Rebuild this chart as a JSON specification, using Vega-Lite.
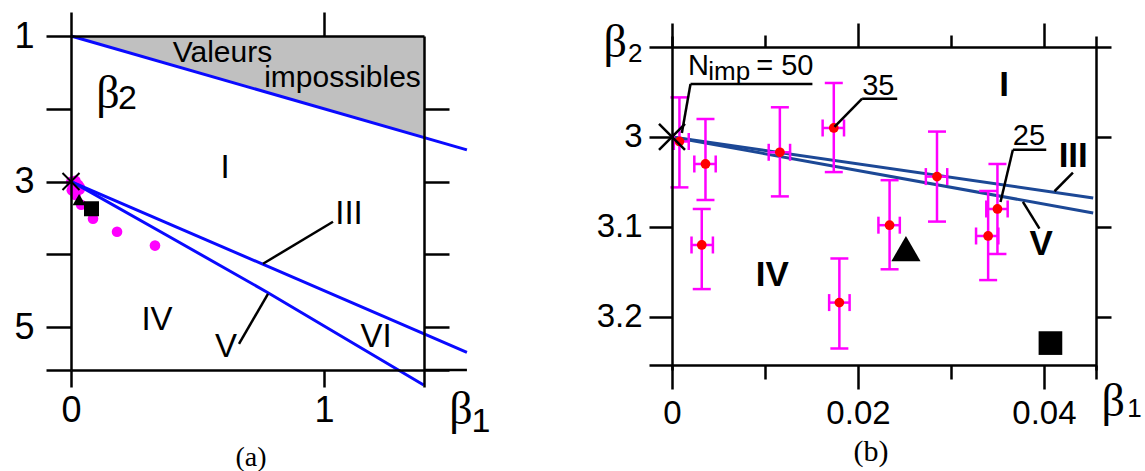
{
  "$schema": "https://vega.github.io/schema/vega-lite/v6.json",
  "background": "white",
  "padding": {"left": 13, "top": 10, "right": 5, "bottom": 5},
  "bounds": "flush",
  "spacing": 248,
  "config": {
    "view": {"stroke": null},
    "axis": {"domainColor": "black", "tickColor": "black", "domainWidth": 2.5, "tickWidth": 2.5, "labelColor": "black", "labelFont": "Liberation Sans", "grid": false, "labelFlush": false, "labelOverlap": false, "labelBound": false}
  },
  "datasets": {
    "areaA": [{"x": 0, "y": 1, "y2": 1}, {"x": 1.3953, "y": 2.3953, "y2": 1}],
    "linesA": [
      {"s": "top", "x": 0, "y": 1}, {"s": "top", "x": 1.565, "y": 2.565},
      {"s": "III", "x": 0, "y": 3}, {"s": "III", "x": 1.565, "y": 5.3475},
      {"s": "V", "x": 0, "y": 3}, {"s": "V", "x": 0.045, "y": 3.084}, {"s": "V", "x": 0.382, "y": 3.745}, {"s": "V", "x": 0.777, "y": 4.524}, {"s": "V", "x": 1.394, "y": 5.797}
    ],
    "dotsA": [
      {"x": 0.0008, "y": 3.005}, {"x": 0.0036, "y": 3.03}, {"x": 0.0032, "y": 3.12}, {"x": 0.0116, "y": 3.017}, {"x": 0.0174, "y": 2.99},
      {"x": 0.018, "y": 3.184}, {"x": 0.0234, "y": 3.098}, {"x": 0.0285, "y": 3.044}, {"x": 0.034, "y": 3.11}, {"x": 0.035, "y": 3.08},
      {"x": 0.04, "y": 3.319}, {"x": 0.087, "y": 3.511}, {"x": 0.182, "y": 3.69}, {"x": 0.332, "y": 3.88}
    ],
    "symA": [{"k": "tri", "x": 0.032, "y": 3.25}, {"k": "sq", "x": 0.081, "y": 3.374}, {"k": "cross", "x": 0, "y": 3}],
    "segA": [
      {"x": 1.0356, "y": 3.5526, "x2": 0.7589, "y2": 4.1299},
      {"x": 0.7787, "y": 4.5424, "x2": 0.664, "y2": 5.2297},
      {"x": 1.3953, "y": 5.59, "x2": 1.565, "y2": 5.59}
    ],
    "txtA_region": [
      {"t": "I", "x": 0.6087, "y": 2.81}, {"t": "III", "x": 1.0988, "y": 3.4426}, {"t": "IV", "x": 0.3399, "y": 4.9066},
      {"t": "V", "x": 0.6126, "y": 5.2708}, {"t": "VI", "x": 1.2055, "y": 5.1333}
    ],
    "txtA_words": [{"t": "Valeurs", "x": 0.5988, "y": 1.2296}, {"t": "impossibles", "x": 1.0731, "y": 1.5732}],
    "txtA_beta": [{"t": "β", "x": 0.1462, "y": 1.8}, {"t": "β", "x": 1.5415, "y": 6.1368}],
    "txtA_sub": [{"t": "2", "x": 0.2233, "y": 1.8687}, {"t": "1", "x": 1.6206, "y": 6.3017}],
    "txtA_cap": [{"t": "(a)", "x": 0.7115, "y": 6.7966}],
    "linesB": [
      {"s": "III", "x": 0, "y": 3}, {"s": "III", "x": 0.0453, "y": 3.0678},
      {"s": "V", "x": 0, "y": 3}, {"s": "V", "x": 0.0453, "y": 3.0844}
    ],
    "ptsB": [
      {"x": 0.0008, "y": 3.005, "ylo": 2.956, "yhi": 3.056, "xlo": 0.0002, "xhi": 0.0018},
      {"x": 0.0036, "y": 3.03, "ylo": 2.98, "yhi": 3.07, "xlo": 0.0024, "xhi": 0.0047},
      {"x": 0.0032, "y": 3.12, "ylo": 3.08, "yhi": 3.169, "xlo": 0.0021, "xhi": 0.0044},
      {"x": 0.0116, "y": 3.017, "ylo": 2.967, "yhi": 3.066, "xlo": 0.0104, "xhi": 0.0127},
      {"x": 0.0174, "y": 2.99, "ylo": 2.94, "yhi": 3.039, "xlo": 0.0162, "xhi": 0.0185},
      {"x": 0.018, "y": 3.184, "ylo": 3.135, "yhi": 3.235, "xlo": 0.0169, "xhi": 0.0191},
      {"x": 0.0234, "y": 3.098, "ylo": 3.048, "yhi": 3.147, "xlo": 0.0222, "xhi": 0.0245},
      {"x": 0.0285, "y": 3.044, "ylo": 2.994, "yhi": 3.094, "xlo": 0.0273, "xhi": 0.0296},
      {"x": 0.034, "y": 3.11, "ylo": 3.06, "yhi": 3.159, "xlo": 0.0327, "xhi": 0.0351},
      {"x": 0.035, "y": 3.08, "ylo": 3.03, "yhi": 3.13, "xlo": 0.0338, "xhi": 0.0361}
    ],
    "symB": [{"k": "tri", "x": 0.02516, "y": 3.124}, {"k": "sq", "x": 0.0407, "y": 3.229}, {"k": "cross", "x": 0, "y": 3}],
    "segB": [
      {"x": 0.00199, "y": 2.9411, "x2": 0.0151, "y2": 2.9411},
      {"x": 0.00199, "y": 2.9411, "x2": 0.00106, "y2": 2.9956},
      {"x": 0.02045, "y": 2.9574, "x2": 0.02422, "y2": 2.9574},
      {"x": 0.02045, "y": 2.9574, "x2": 0.01747, "y2": 2.9889},
      {"x": 0.03666, "y": 3.0141, "x2": 0.04025, "y2": 3.0141},
      {"x": 0.03666, "y": 3.0141, "x2": 0.03533, "y2": 3.0722},
      {"x": 0.04312, "y": 3.0397, "x2": 0.04114, "y2": 3.0603},
      {"x": 0.03952, "y": 3.1019, "x2": 0.03774, "y2": 3.0722}
    ],
    "txtB_lbl": [
      {"t": "N", "x": 0.00171, "y": 2.9314}, {"t": "= 50", "x": 0.00906, "y": 2.9314},
      {"t": "35", "x": 0.02045, "y": 2.9533}, {"t": "25", "x": 0.03666, "y": 3.0092}
    ],
    "txtB_imp": [{"t": "imp", "x": 0.0039, "y": 2.937}],
    "txtB_region": [
      {"t": "I", "x": 0.03573, "y": 2.9417}, {"t": "III", "x": 0.04315, "y": 3.0211},
      {"t": "V", "x": 0.0397, "y": 3.1192}, {"t": "IV", "x": 0.01078, "y": 3.1537}
    ],
    "txtB_beta": [{"t": "β", "x": -0.00611, "y": 2.8961}, {"t": "β", "x": 0.04745, "y": 3.295}],
    "txtB_sub": [{"t": "2", "x": -0.00396, "y": 2.9083}, {"t": "1", "x": 0.04975, "y": 3.3017}],
    "txtB_cap": [{"t": "(b)", "x": 0.02141, "y": 3.35}]
  },
  "hconcat": [
    {
      "width": 353,
      "height": 334,
      "resolve": {"axis": {"x": "independent", "y": "independent"}},
      "layer": [
        {
          "data": {"name": "areaA"},
          "mark": {"type": "area", "color": "#c0c0c0", "opacity": 1},
          "encoding": {
            "x": {"field": "x", "type": "quantitative", "scale": {"domain": [0, 1.3953], "nice": false, "zero": false},
                  "axis": {"orient": "bottom", "values": [0, 1, 1.3953], "tickSize": 17, "labelExpr": "datum.value == 0 ? '0' : datum.value == 1 ? '1' : ''", "labelFontSize": 36, "labelPadding": 6, "title": null, "zindex": 1}},
            "y": {"field": "y", "type": "quantitative", "scale": {"domain": [1, 5.59], "nice": false, "zero": false, "reverse": true},
                  "axis": {"orient": "left", "values": [1, 2, 3, 4, 5, 5.59], "tickSize": 25, "labelExpr": "datum.value == 1 ? '1' : datum.value == 3 ? '3' : datum.value == 5 ? '5' : ''", "labelFontSize": 36, "labelPadding": 12, "title": null, "zindex": 1}},
            "y2": {"field": "y2"}
          }
        },
        {
          "data": {"name": "dotsA"},
          "mark": {"type": "point", "shape": "circle", "filled": true, "color": "#ff00ff", "opacity": 1, "size": 113},
          "encoding": {
            "x": {"field": "x", "type": "quantitative", "scale": {"domain": [0, 1.3953], "nice": false, "zero": false},
                  "axis": {"orient": "top", "values": [0, 1], "tickSize": 24, "labels": false, "title": null, "zindex": 1}},
            "y": {"field": "y", "type": "quantitative", "scale": {"domain": [1, 5.59], "nice": false, "zero": false, "reverse": true},
                  "axis": {"orient": "right", "values": [2, 3, 4, 5, 5.59], "tickSize": 25, "labels": false, "title": null, "zindex": 1}}
          }
        },
        {
          "data": {"name": "linesA"},
          "mark": {"type": "line", "color": "#0a0aff", "strokeWidth": 3},
          "encoding": {
            "x": {"field": "x", "type": "quantitative", "scale": {"domain": [0, 1.3953], "nice": false, "zero": false}, "axis": null},
            "y": {"field": "y", "type": "quantitative", "scale": {"domain": [1, 5.59], "nice": false, "zero": false, "reverse": true}, "axis": null},
            "detail": {"field": "s"}
          }
        },
        {
          "data": {"name": "symA"},
          "transform": [{"filter": "datum.k == 'tri'"}],
          "mark": {"type": "point", "shape": "triangle-up", "filled": true, "color": "black", "opacity": 1, "size": 170},
          "encoding": {
            "x": {"field": "x", "type": "quantitative", "scale": {"domain": [0, 1.3953], "nice": false, "zero": false}, "axis": null},
            "y": {"field": "y", "type": "quantitative", "scale": {"domain": [1, 5.59], "nice": false, "zero": false, "reverse": true}, "axis": null}
          }
        },
        {
          "data": {"name": "symA"},
          "transform": [{"filter": "datum.k == 'sq'"}],
          "mark": {"type": "point", "shape": "square", "filled": true, "color": "black", "opacity": 1, "size": 225},
          "encoding": {
            "x": {"field": "x", "type": "quantitative", "scale": {"domain": [0, 1.3953], "nice": false, "zero": false}, "axis": null},
            "y": {"field": "y", "type": "quantitative", "scale": {"domain": [1, 5.59], "nice": false, "zero": false, "reverse": true}, "axis": null}
          }
        },
        {
          "data": {"name": "symA"},
          "transform": [{"filter": "datum.k == 'cross'"}],
          "mark": {"type": "point", "shape": "M-1,-1L1,1M-1,1L1,-1", "filled": false, "color": "black", "strokeWidth": 2, "opacity": 1, "size": 289},
          "encoding": {
            "x": {"field": "x", "type": "quantitative", "scale": {"domain": [0, 1.3953], "nice": false, "zero": false}, "axis": null},
            "y": {"field": "y", "type": "quantitative", "scale": {"domain": [1, 5.59], "nice": false, "zero": false, "reverse": true}, "axis": null}
          }
        },
        {
          "data": {"name": "segA"},
          "mark": {"type": "rule", "color": "black", "strokeWidth": 2.5},
          "encoding": {
            "x": {"field": "x", "type": "quantitative", "scale": {"domain": [0, 1.3953], "nice": false, "zero": false}, "axis": null},
            "y": {"field": "y", "type": "quantitative", "scale": {"domain": [1, 5.59], "nice": false, "zero": false, "reverse": true}, "axis": null},
            "x2": {"field": "x2"},
            "y2": {"field": "y2"}
          }
        },
        {
          "data": {"name": "txtA_region"},
          "mark": {"type": "text", "font": "Liberation Sans", "fontSize": 33, "color": "black", "align": "center", "baseline": "middle"},
          "encoding": {
            "x": {"field": "x", "type": "quantitative", "scale": {"domain": [0, 1.3953], "nice": false, "zero": false}, "axis": null},
            "y": {"field": "y", "type": "quantitative", "scale": {"domain": [1, 5.59], "nice": false, "zero": false, "reverse": true}, "axis": null},
            "text": {"field": "t"}
          }
        },
        {
          "data": {"name": "txtA_words"},
          "mark": {"type": "text", "font": "Liberation Sans", "fontSize": 30, "color": "black", "align": "center", "baseline": "middle"},
          "encoding": {
            "x": {"field": "x", "type": "quantitative", "scale": {"domain": [0, 1.3953], "nice": false, "zero": false}, "axis": null},
            "y": {"field": "y", "type": "quantitative", "scale": {"domain": [1, 5.59], "nice": false, "zero": false, "reverse": true}, "axis": null},
            "text": {"field": "t"}
          }
        },
        {
          "data": {"name": "txtA_beta"},
          "mark": {"type": "text", "font": "Liberation Serif", "fontSize": 46, "color": "black", "align": "center", "baseline": "middle"},
          "encoding": {
            "x": {"field": "x", "type": "quantitative", "scale": {"domain": [0, 1.3953], "nice": false, "zero": false}, "axis": null},
            "y": {"field": "y", "type": "quantitative", "scale": {"domain": [1, 5.59], "nice": false, "zero": false, "reverse": true}, "axis": null},
            "text": {"field": "t"}
          }
        },
        {
          "data": {"name": "txtA_sub"},
          "mark": {"type": "text", "font": "Liberation Sans", "fontSize": 34, "color": "black", "align": "center", "baseline": "middle"},
          "encoding": {
            "x": {"field": "x", "type": "quantitative", "scale": {"domain": [0, 1.3953], "nice": false, "zero": false}, "axis": null},
            "y": {"field": "y", "type": "quantitative", "scale": {"domain": [1, 5.59], "nice": false, "zero": false, "reverse": true}, "axis": null},
            "text": {"field": "t"}
          }
        },
        {
          "data": {"name": "txtA_cap"},
          "mark": {"type": "text", "font": "Liberation Serif", "fontSize": 28, "color": "black", "align": "center", "baseline": "middle"},
          "encoding": {
            "x": {"field": "x", "type": "quantitative", "scale": {"domain": [0, 1.3953], "nice": false, "zero": false}, "axis": null},
            "y": {"field": "y", "type": "quantitative", "scale": {"domain": [1, 5.59], "nice": false, "zero": false, "reverse": true}, "axis": null},
            "text": {"field": "t"}
          }
        }
      ]
    },
    {
      "width": 424,
      "height": 334,
      "resolve": {"axis": {"x": "independent", "y": "independent"}},
      "layer": [
        {
          "data": {"name": "linesB"},
          "mark": {"type": "line", "color": "#1c4896", "strokeWidth": 3},
          "encoding": {
            "x": {"field": "x", "type": "quantitative", "scale": {"domain": [0, 0.0456], "nice": false, "zero": false},
                  "axis": {"orient": "bottom", "offset": -5, "values": [0, 0.02, 0.04], "tickSize": 24, "labelExpr": "datum.value == 0 ? '0' : format(datum.value, '.2f')", "labelFontSize": 33, "labelPadding": 8, "title": null, "zindex": 1}},
            "y": {"field": "y", "type": "quantitative", "scale": {"domain": [2.8878, 3.2589], "nice": false, "zero": false, "reverse": true},
                  "axis": {"orient": "left", "values": [2.9, 3, 3.1, 3.2, 3.2537], "tickSize": 23, "labelExpr": "datum.value == 3 ? '3' : (datum.value == 3.1 || datum.value == 3.2) ? format(datum.value, '.1f') : ''", "labelFontSize": 33, "labelPadding": 7, "title": null, "zindex": 1}},
            "detail": {"field": "s"}
          }
        },
        {
          "data": {"name": "ptsB"},
          "mark": {"type": "rule", "color": "#ff00ff", "strokeWidth": 2.5},
          "encoding": {
            "x": {"field": "x", "type": "quantitative", "scale": {"domain": [0, 0.0456], "nice": false, "zero": false},
                  "axis": {"orient": "bottom", "offset": -5, "values": [0.01, 0.03, 0.0456], "tickSize": 14, "labels": false, "domain": false, "title": null, "zindex": 1}},
            "y": {"field": "ylo", "type": "quantitative", "scale": {"domain": [2.8878, 3.2589], "nice": false, "zero": false, "reverse": true},
                  "axis": {"orient": "right", "values": [2.9, 3, 3.1, 3.2], "tickSize": 15, "labels": false, "title": null, "zindex": 1}},
            "y2": {"field": "yhi"}
          }
        },
        {
          "data": {"name": "ptsB"},
          "mark": {"type": "rule", "color": "#ff00ff", "strokeWidth": 2.5},
          "encoding": {
            "x": {"field": "xlo", "type": "quantitative", "scale": {"domain": [0, 0.0456], "nice": false, "zero": false},
                  "axis": {"orient": "top", "offset": -11, "values": [0, 0.02, 0.04], "tickSize": 24, "labels": false, "title": null, "zindex": 1}},
            "x2": {"field": "xhi"},
            "y": {"field": "y", "type": "quantitative", "scale": {"domain": [2.8878, 3.2589], "nice": false, "zero": false, "reverse": true}, "axis": null}
          }
        },
        {
          "data": {"name": "ptsB"},
          "mark": {"type": "tick", "orient": "horizontal", "color": "#ff00ff", "size": 18, "thickness": 2.5, "opacity": 1},
          "encoding": {
            "x": {"field": "x", "type": "quantitative", "scale": {"domain": [0, 0.0456], "nice": false, "zero": false},
                  "axis": {"orient": "top", "offset": -11, "values": [0.01, 0.03], "tickSize": 12, "labels": false, "domain": false, "title": null, "zindex": 1}},
            "y": {"field": "ylo", "type": "quantitative", "scale": {"domain": [2.8878, 3.2589], "nice": false, "zero": false, "reverse": true}, "axis": null}
          }
        },
        {
          "data": {"name": "ptsB"},
          "mark": {"type": "tick", "orient": "horizontal", "color": "#ff00ff", "size": 18, "thickness": 2.5, "opacity": 1},
          "encoding": {
            "x": {"field": "x", "type": "quantitative", "scale": {"domain": [0, 0.0456], "nice": false, "zero": false}, "axis": null},
            "y": {"field": "yhi", "type": "quantitative", "scale": {"domain": [2.8878, 3.2589], "nice": false, "zero": false, "reverse": true}, "axis": null}
          }
        },
        {
          "data": {"name": "ptsB"},
          "mark": {"type": "tick", "orient": "vertical", "color": "#ff00ff", "size": 17, "thickness": 2.5, "opacity": 1},
          "encoding": {
            "x": {"field": "xlo", "type": "quantitative", "scale": {"domain": [0, 0.0456], "nice": false, "zero": false}, "axis": null},
            "y": {"field": "y", "type": "quantitative", "scale": {"domain": [2.8878, 3.2589], "nice": false, "zero": false, "reverse": true}, "axis": null}
          }
        },
        {
          "data": {"name": "ptsB"},
          "mark": {"type": "tick", "orient": "vertical", "color": "#ff00ff", "size": 17, "thickness": 2.5, "opacity": 1},
          "encoding": {
            "x": {"field": "xhi", "type": "quantitative", "scale": {"domain": [0, 0.0456], "nice": false, "zero": false}, "axis": null},
            "y": {"field": "y", "type": "quantitative", "scale": {"domain": [2.8878, 3.2589], "nice": false, "zero": false, "reverse": true}, "axis": null}
          }
        },
        {
          "data": {"name": "ptsB"},
          "mark": {"type": "point", "shape": "circle", "filled": true, "color": "#ff0000", "opacity": 1, "size": 95},
          "encoding": {
            "x": {"field": "x", "type": "quantitative", "scale": {"domain": [0, 0.0456], "nice": false, "zero": false}, "axis": null},
            "y": {"field": "y", "type": "quantitative", "scale": {"domain": [2.8878, 3.2589], "nice": false, "zero": false, "reverse": true}, "axis": null}
          }
        },
        {
          "data": {"name": "symB"},
          "transform": [{"filter": "datum.k == 'tri'"}],
          "mark": {"type": "point", "shape": "triangle-up", "filled": true, "color": "black", "opacity": 1, "size": 850},
          "encoding": {
            "x": {"field": "x", "type": "quantitative", "scale": {"domain": [0, 0.0456], "nice": false, "zero": false}, "axis": null},
            "y": {"field": "y", "type": "quantitative", "scale": {"domain": [2.8878, 3.2589], "nice": false, "zero": false, "reverse": true}, "axis": null}
          }
        },
        {
          "data": {"name": "symB"},
          "transform": [{"filter": "datum.k == 'sq'"}],
          "mark": {"type": "point", "shape": "square", "filled": true, "color": "black", "opacity": 1, "size": 560},
          "encoding": {
            "x": {"field": "x", "type": "quantitative", "scale": {"domain": [0, 0.0456], "nice": false, "zero": false}, "axis": null},
            "y": {"field": "y", "type": "quantitative", "scale": {"domain": [2.8878, 3.2589], "nice": false, "zero": false, "reverse": true}, "axis": null}
          }
        },
        {
          "data": {"name": "symB"},
          "transform": [{"filter": "datum.k == 'cross'"}],
          "mark": {"type": "point", "shape": "M-1,-1L1,1M-1,1L1,-1", "filled": false, "color": "black", "strokeWidth": 2.5, "opacity": 1, "size": 676},
          "encoding": {
            "x": {"field": "x", "type": "quantitative", "scale": {"domain": [0, 0.0456], "nice": false, "zero": false}, "axis": null},
            "y": {"field": "y", "type": "quantitative", "scale": {"domain": [2.8878, 3.2589], "nice": false, "zero": false, "reverse": true}, "axis": null}
          }
        },
        {
          "data": {"name": "segB"},
          "mark": {"type": "rule", "color": "black", "strokeWidth": 2.5},
          "encoding": {
            "x": {"field": "x", "type": "quantitative", "scale": {"domain": [0, 0.0456], "nice": false, "zero": false}, "axis": null},
            "y": {"field": "y", "type": "quantitative", "scale": {"domain": [2.8878, 3.2589], "nice": false, "zero": false, "reverse": true}, "axis": null},
            "x2": {"field": "x2"},
            "y2": {"field": "y2"}
          }
        },
        {
          "data": {"name": "txtB_lbl"},
          "mark": {"type": "text", "font": "Liberation Sans", "fontSize": 29, "color": "black", "align": "left", "baseline": "alphabetic"},
          "encoding": {
            "x": {"field": "x", "type": "quantitative", "scale": {"domain": [0, 0.0456], "nice": false, "zero": false}, "axis": null},
            "y": {"field": "y", "type": "quantitative", "scale": {"domain": [2.8878, 3.2589], "nice": false, "zero": false, "reverse": true}, "axis": null},
            "text": {"field": "t"}
          }
        },
        {
          "data": {"name": "txtB_imp"},
          "mark": {"type": "text", "font": "Liberation Sans", "fontSize": 26, "color": "black", "align": "left", "baseline": "alphabetic"},
          "encoding": {
            "x": {"field": "x", "type": "quantitative", "scale": {"domain": [0, 0.0456], "nice": false, "zero": false}, "axis": null},
            "y": {"field": "y", "type": "quantitative", "scale": {"domain": [2.8878, 3.2589], "nice": false, "zero": false, "reverse": true}, "axis": null},
            "text": {"field": "t"}
          }
        },
        {
          "data": {"name": "txtB_region"},
          "mark": {"type": "text", "font": "Liberation Sans", "fontSize": 35, "fontWeight": "bold", "color": "black", "align": "center", "baseline": "middle"},
          "encoding": {
            "x": {"field": "x", "type": "quantitative", "scale": {"domain": [0, 0.0456], "nice": false, "zero": false}, "axis": null},
            "y": {"field": "y", "type": "quantitative", "scale": {"domain": [2.8878, 3.2589], "nice": false, "zero": false, "reverse": true}, "axis": null},
            "text": {"field": "t"}
          }
        },
        {
          "data": {"name": "txtB_beta"},
          "mark": {"type": "text", "font": "Liberation Serif", "fontSize": 46, "color": "black", "align": "center", "baseline": "middle"},
          "encoding": {
            "x": {"field": "x", "type": "quantitative", "scale": {"domain": [0, 0.0456], "nice": false, "zero": false}, "axis": null},
            "y": {"field": "y", "type": "quantitative", "scale": {"domain": [2.8878, 3.2589], "nice": false, "zero": false, "reverse": true}, "axis": null},
            "text": {"field": "t"}
          }
        },
        {
          "data": {"name": "txtB_sub"},
          "mark": {"type": "text", "font": "Liberation Sans", "fontSize": 26, "color": "black", "align": "center", "baseline": "middle"},
          "encoding": {
            "x": {"field": "x", "type": "quantitative", "scale": {"domain": [0, 0.0456], "nice": false, "zero": false}, "axis": null},
            "y": {"field": "y", "type": "quantitative", "scale": {"domain": [2.8878, 3.2589], "nice": false, "zero": false, "reverse": true}, "axis": null},
            "text": {"field": "t"}
          }
        },
        {
          "data": {"name": "txtB_cap"},
          "mark": {"type": "text", "font": "Liberation Serif", "fontSize": 30, "color": "black", "align": "center", "baseline": "middle"},
          "encoding": {
            "x": {"field": "x", "type": "quantitative", "scale": {"domain": [0, 0.0456], "nice": false, "zero": false}, "axis": null},
            "y": {"field": "y", "type": "quantitative", "scale": {"domain": [2.8878, 3.2589], "nice": false, "zero": false, "reverse": true}, "axis": null},
            "text": {"field": "t"}
          }
        }
      ]
    }
  ]
}
